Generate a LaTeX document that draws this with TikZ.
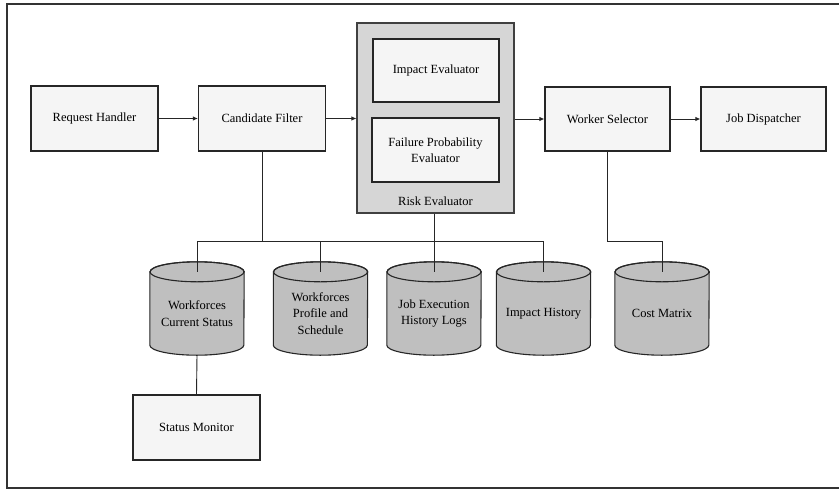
\documentclass[tikz,border=0pt]{standalone}
\usepackage{fontspec}
\setmainfont{Liberation Serif}
\usetikzlibrary{arrows.meta,backgrounds}
\tikzset{
  box/.style={draw=black!85, line width=1.2pt, fill=gray!8, minimum width=127pt, minimum height=65pt,
    inner sep=2pt, align=center, font=\fontsize{12.5}{16}\selectfont},
  riskbox/.style={draw=black!75, line width=1.1pt, fill=gray!32, minimum width=157pt, minimum height=190pt, inner sep=0pt},
  dbnode/.style={minimum width=94pt, minimum height=83pt, inner sep=0pt, align=center,
    font=\fontsize{12.5}{16.5}\selectfont},
  dbshape/.style={draw=black!85, line width=1.1pt, fill=gray!50},
  conn/.style={draw=black!85, line width=0.9pt},
  arr/.style={conn, -{Latex[length=5pt,width=4.5pt]}},
  frame/.style={draw=black!80, line width=1.1pt},
  lbl/.style={font=\fontsize{12.5}{16}\selectfont, inner sep=0pt}
}
\newcommand{\dbcyl}[3]{%
  \node[dbnode] (#1) at (#2,313.5) {#3};
  \begin{scope}[on background layer]
    \path[dbshape] (#1.north west) -- ([yshift=10pt]#1.south west)
      arc[start angle=180, end angle=360, x radius=47pt, y radius=10pt]
      -- (#1.north east)
      arc[start angle=0, end angle=180, x radius=47pt, y radius=10pt] -- cycle;
    \draw[draw=black!85, line width=1.1pt] (#1.north) ellipse[x radius=47pt, y radius=10pt];
  \end{scope}
}
\begin{document}
\begin{tikzpicture}[x=1pt,y=-1pt]
\useasboundingbox (0,0) rectangle (839,491);
% frame
\coordinate (ftl) at (7,4);
\coordinate (ftr) at (839,4);
\coordinate (fbl) at (7,488);
\coordinate (fbr) at (839,488);
\draw[frame] (ftr) -- (ftl) -- (fbl) -- (fbr);

% top row
\node[box] (rh) at (94.5,118.5) {Request Handler};
\node[box] (cf) at (262,118.5) {Candidate Filter};
\node[riskbox] (re) at (435.5,118) {};
\node[box, minimum width=126pt, minimum height=63pt] (ie) at (436,70.5) {Impact Evaluator};
\node[box, minimum width=127pt, minimum height=64pt] (fp) at (435.5,150) {Failure Probability\\Evaluator};
\node[lbl] (relbl) at (435.5,201) {Risk Evaluator};
\node[box, minimum width=125pt, minimum height=64pt] (ws) at (607.5,119) {Worker Selector};
\node[box, minimum width=125pt, minimum height=64pt] (jd) at (763.5,119) {Job Dispatcher};

% databases
\dbcyl{wcs}{197}{Workforces\\Current Status}
\dbcyl{wps}{320.5}{Workforces\\Profile and\\Schedule}
\dbcyl{jeh}{434}{Job Execution\\History Logs}
\dbcyl{ih}{543.5}{Impact History}
\dbcyl{cm}{662}{Cost Matrix}

\node[box] (sm) at (196.5,427.5) {Status Monitor};

% bus
\coordinate (bus) at (0,241);

% arrows
\draw[arr] (rh) -- (cf);
\draw[arr] (cf.east) -- (cf.east -| re.west);
\draw[arr] (ws.west -| re.east) -- (ws.west);
\draw[arr] (ws) -- (jd);

% lines
\draw[conn] (wcs.north) -- (wcs.north |- bus) -- (ih.north |- bus) -- (ih.north);
\draw[conn] (cf.south) -- (cf.south |- bus);
\draw[conn] (wps.north) -- (wps.north |- bus);
\draw[conn] (re.south -| jeh.north) -- (jeh.north);
\draw[conn] (ws.south) -- (ws.south |- bus) -- (cm.north |- bus) -- (cm.north);
\draw[conn] (wcs.south) -- (sm.north);
\end{tikzpicture}
\end{document}
